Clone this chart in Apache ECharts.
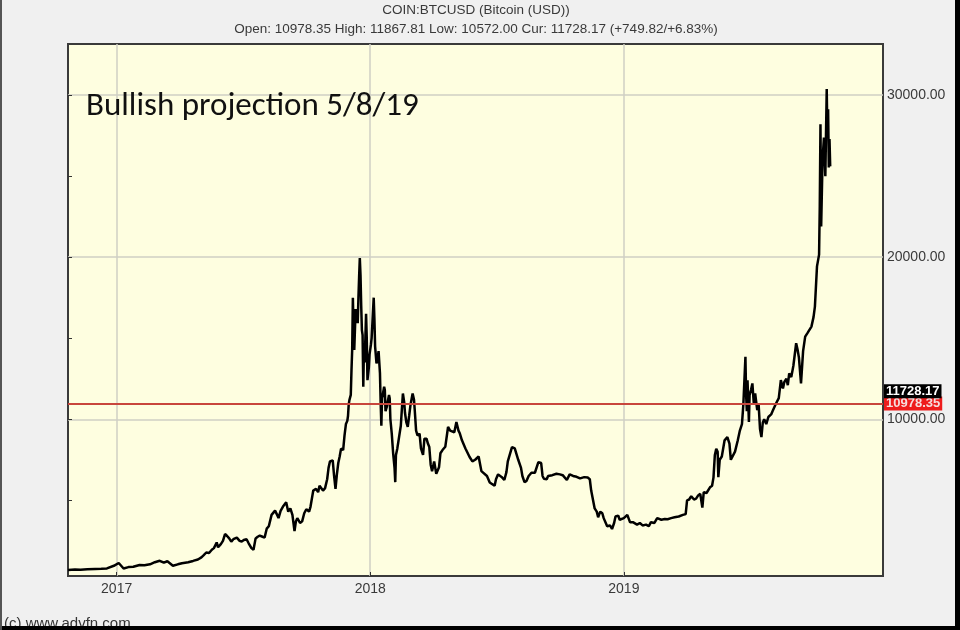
<!DOCTYPE html>
<html>
<head>
<meta charset="utf-8">
<script src="https://cdn.jsdelivr.net/npm/echarts@6/dist/echarts.min.js"></script>
<style>
html,body{margin:0;padding:0;background:#f0f0f0;}
#chart{width:960px;height:630px;}
</style>
</head>
<body>
<div id="chart"></div>
<script>
const headerTitle = 'COIN:BTCUSD (Bitcoin (USD))';
const headerStats = 'Open: 10978.35 High: 11867.81 Low: 10572.00 Cur: 11728.17 (+749.82/+6.83%)';
const annotation = 'Bullish projection 5/8/19';
const copyright = '(c) www.advfn.com';
const openValue = 10978.35;
const curValue = 11728.17;
const yearTicks = ['2017-01-01', '2018-01-01', '2019-01-01'];
const priceTicks = [10000, 20000, 30000];
const minorPriceTicks = [5000, 10000, 15000, 20000, 25000, 30000];

const dates = [
'2016-10-23','2016-11-02','2016-11-10','2016-11-20','2016-12-01','2016-12-10','2016-12-18','2016-12-28','2017-01-04','2017-01-11',
'2017-01-18','2017-01-25','2017-02-03','2017-02-10','2017-02-18','2017-02-25','2017-03-04','2017-03-10','2017-03-15','2017-03-23',
'2017-03-30','2017-04-05','2017-04-14','2017-04-21','2017-04-28','2017-05-03','2017-05-06','2017-05-10','2017-05-14','2017-05-18',
'2017-05-21','2017-05-25','2017-05-27','2017-05-31','2017-06-03','2017-06-06','2017-06-09','2017-06-12','2017-06-15','2017-06-18',
'2017-06-23','2017-06-27','2017-06-30','2017-07-03','2017-07-07','2017-07-10','2017-07-14','2017-07-17','2017-07-20','2017-07-23',
'2017-07-26','2017-07-30','2017-08-02','2017-08-05','2017-08-08','2017-08-12','2017-08-17','2017-08-20','2017-08-22','2017-08-25',
'2017-08-29','2017-09-02','2017-09-05','2017-09-08','2017-09-11','2017-09-14','2017-09-16','2017-09-18','2017-09-22','2017-09-25',
'2017-09-28','2017-10-01','2017-10-05','2017-10-07','2017-10-11','2017-10-13','2017-10-15','2017-10-18','2017-10-20','2017-10-25',
'2017-10-28','2017-10-31','2017-11-02','2017-11-04','2017-11-08','2017-11-10','2017-11-12','2017-11-14','2017-11-16','2017-11-18',
'2017-11-20','2017-11-23','2017-11-25','2017-11-27','2017-11-29','2017-11-30','2017-12-01','2017-12-02','2017-12-04','2017-12-05',
'2017-12-06','2017-12-07','2017-12-08','2017-12-09','2017-12-11','2017-12-12','2017-12-14','2017-12-15','2017-12-16','2017-12-17',
'2017-12-18','2017-12-19','2017-12-20','2017-12-21','2017-12-22','2017-12-23','2017-12-24','2017-12-26','2017-12-27','2017-12-28',
'2017-12-30','2017-12-31','2018-01-02','2018-01-03','2018-01-06','2018-01-07','2018-01-08','2018-01-10','2018-01-11','2018-01-13',
'2018-01-15','2018-01-16','2018-01-17','2018-01-18','2018-01-19','2018-01-21','2018-01-22','2018-01-23','2018-01-25','2018-01-28',
'2018-01-29','2018-01-30','2018-02-01','2018-02-03','2018-02-05','2018-02-06','2018-02-07','2018-02-09','2018-02-11','2018-02-14',
'2018-02-17','2018-02-19','2018-02-20','2018-02-22','2018-02-24','2018-02-26','2018-02-28','2018-03-03','2018-03-05','2018-03-06',
'2018-03-08','2018-03-10','2018-03-13','2018-03-15','2018-03-18','2018-03-20','2018-03-23','2018-03-25','2018-03-27','2018-03-29',
'2018-03-31','2018-04-03','2018-04-06','2018-04-10','2018-04-12','2018-04-15','2018-04-19','2018-04-23','2018-04-26','2018-04-28',
'2018-05-02','2018-05-05','2018-05-08','2018-05-10','2018-05-13','2018-05-15','2018-05-18','2018-05-20','2018-05-24','2018-05-28',
'2018-06-01','2018-06-03','2018-06-06','2018-06-08','2018-06-10','2018-06-12','2018-06-18','2018-06-22','2018-06-24','2018-06-29',
'2018-07-01','2018-07-04','2018-07-10','2018-07-13','2018-07-16','2018-07-18','2018-07-20','2018-07-24','2018-07-26','2018-07-28',
'2018-08-02','2018-08-06','2018-08-08','2018-08-11','2018-08-14','2018-08-17','2018-08-21','2018-08-26','2018-08-31','2018-09-04',
'2018-09-06','2018-09-08','2018-09-12','2018-09-14','2018-09-20','2018-09-26','2018-10-01','2018-10-05','2018-10-11','2018-10-15',
'2018-10-20','2018-10-25','2018-10-30','2018-11-05','2018-11-10','2018-11-13','2018-11-15','2018-11-17','2018-11-20','2018-11-23',
'2018-11-25','2018-11-28','2018-12-01','2018-12-03','2018-12-06','2018-12-08','2018-12-12','2018-12-15','2018-12-18','2018-12-20',
'2018-12-24','2018-12-26','2018-12-28','2019-01-01','2019-01-06','2019-01-10','2019-01-14','2019-01-20','2019-01-24','2019-01-28',
'2019-02-02','2019-02-06','2019-02-09','2019-02-14','2019-02-18','2019-02-24','2019-03-01','2019-03-05','2019-03-10','2019-03-15',
'2019-03-21','2019-03-27','2019-03-31','2019-04-02','2019-04-05','2019-04-08','2019-04-12','2019-04-15','2019-04-18','2019-04-21',
'2019-04-24','2019-04-26','2019-04-30','2019-05-05','2019-05-08','2019-05-10','2019-05-12','2019-05-14','2019-05-16','2019-05-17',
'2019-05-19','2019-05-22','2019-05-26','2019-05-30','2019-06-02','2019-06-04','2019-06-06','2019-06-10','2019-06-14','2019-06-17',
'2019-06-20','2019-06-22','2019-06-24','2019-06-25','2019-06-26','2019-06-27','2019-06-28','2019-06-30','2019-07-01','2019-07-03',
'2019-07-05','2019-07-07','2019-07-09','2019-07-12','2019-07-14','2019-07-16','2019-07-18','2019-07-20','2019-07-22','2019-07-25',
'2019-07-28','2019-08-01','2019-08-03','2019-08-08','2019-08-10','2019-08-12','2019-08-15','2019-08-18','2019-08-20','2019-08-23',
'2019-08-25','2019-08-27','2019-08-30','2019-09-02','2019-09-06','2019-09-08','2019-09-10','2019-09-13','2019-09-16','2019-09-19',
'2019-09-22','2019-09-24','2019-09-28','2019-10-01','2019-10-03','2019-10-06','2019-10-09','2019-10-10','2019-10-11','2019-10-12',
'2019-10-14','2019-10-16','2019-10-18','2019-10-20','2019-10-21','2019-10-22','2019-10-23','2019-10-24','2019-10-25'
];
const prices = [
700,730,720,740,760,770,800,960,1130,790,
880,900,1010,990,1050,1180,1270,1150,1240,960,
1050,1120,1180,1260,1350,1480,1600,1780,1750,1950,
2050,2400,2100,2300,2500,2920,2800,2650,2450,2600,
2700,2500,2450,2550,2600,2350,2050,1950,2650,2750,
2820,2750,2700,3250,3400,4100,4365,4100,3900,4350,
4650,4880,4300,4500,4100,3100,3700,3900,3600,3700,
4200,4450,4300,4600,5600,5700,5710,5500,5900,5600,
5750,6300,7000,7400,7460,6500,5700,6600,7300,7700,
8190,8100,9000,9700,9900,10200,10900,11180,11500,13000,
14270,17500,15500,14270,16800,16500,15930,17500,18800,19950,
18900,17000,15500,15200,12000,14500,13500,16500,15000,12415,
13200,14000,14600,15000,17500,16200,14500,13450,13600,14200,
12830,11000,9600,11300,11500,12000,11800,10500,10800,11500,
11300,10000,9100,7875,7000,6120,7800,8200,8200,9600,
11590,11000,10400,9800,9525,10200,10900,11590,11200,10600,
9300,9000,9115,8200,7800,8800,8800,8500,8285,7200,
6800,7400,6640,7045,7900,8100,8300,9525,9300,9200,
9200,9835,9300,9115,8700,8700,8200,8300,7670,7400,
7500,7565,7700,7700,6800,6700,6500,6100,6020,5900,
6300,6600,6400,6250,6740,7400,7400,8285,8200,8200,
7500,7000,6500,6120,6200,6500,6700,6700,7355,7300,
6500,6330,6300,6500,6550,6640,6600,6550,6250,6600,
6500,6450,6350,6430,6400,6300,5600,5600,4500,4300,
3950,4300,4200,3900,3600,3400,3450,3230,3600,4000,
4055,3800,3700,3900,4100,3640,3650,3500,3600,3450,
3500,3400,3650,3600,3900,3800,3850,3830,3900,3950,
4000,4100,4150,5000,5050,5250,5050,5100,5300,5400,
4550,5500,5450,5800,5900,6400,7800,8185,8000,6430,
7500,7700,8700,8900,8500,7500,7460,8000,8700,9300,
9700,10900,11000,13860,11500,10500,12400,9835,11500,11800,
12210,11000,11600,10560,10900,9400,8900,9800,10000,9700,
10140,10300,10500,10970,10900,11300,12415,11900,12300,12500,
12100,12830,12600,13300,14690,14300,13800,12210,14200,15100,
15300,15400,15715,16300,16950,19430,20155,23150,28200,21900,
26040,27380,25000,30370,27480,29130,25530,27280,25600
];

const toTime = s => { const p = s.split('-'); return new Date(+p[0], +p[1] - 1, +p[2]).getTime(); };
const seriesData = dates.map((d, i) => [toTime(d), prices[i]]);
const yearTickTimes = yearTicks.map(toTime);

const chart = echarts.init(document.getElementById('chart'), null, {renderer: 'canvas'});
const FONT = 'Liberation Sans, Arial, sans-serif';
const axisFont = {fontFamily: FONT, fontSize: 14, color: '#3a3a3a'};

chart.setOption({
  animation: false,
  backgroundColor: '#f0f0f0',
  textStyle: {fontFamily: FONT},
  title: {
    text: headerTitle,
    subtext: headerStats,
    left: 476,
    top: 3,
    padding: 0,
    textAlign: 'center',
    itemGap: 5,
    textStyle: {fontSize: 13.5, fontWeight: 'normal', color: '#3a3a3a', fontFamily: FONT},
    subtextStyle: {fontSize: 13.5, color: '#3a3a3a', fontFamily: FONT}
  },
  grid: {
    left: 68, right: 77, top: 44, bottom: 54,
    show: true,
    backgroundColor: '#fefee0',
    borderColor: '#3a3a3a',
    borderWidth: 2
  },
  xAxis: {
    type: 'value',
    min: toTime('2016-10-23'),
    max: toTime('2020-01-09'),
    axisLine: {show: false},
    axisTick: {show: true, inside: true, length: 4, customValues: yearTickTimes, lineStyle: {color: '#333'}},
    axisLabel: Object.assign({
      customValues: yearTickTimes,
      margin: 6,
      formatter: v => String(new Date(v).getFullYear())
    }, axisFont),
    splitLine: {show: true, lineStyle: {color: '#cfcfc4', width: 1.5}}
  },
  yAxis: [{
    type: 'value',
    position: 'right',
    min: 330,
    max: 33150,
    axisLine: {show: false},
    axisTick: {show: false, customValues: priceTicks},
    axisLabel: Object.assign({
      customValues: priceTicks,
      margin: 4,
      formatter: v => v.toFixed(2)
    }, axisFont),
    splitLine: {show: true, lineStyle: {color: '#cfcfc4', width: 1.5}}
  }, {
    type: 'value',
    position: 'left',
    min: 330,
    max: 33150,
    axisLine: {show: false},
    axisTick: {show: true, inside: true, length: 4, customValues: minorPriceTicks, lineStyle: {color: '#333'}},
    axisLabel: {show: false},
    splitLine: {show: false}
  }],
  series: [{
    type: 'line',
    data: seriesData,
    showSymbol: false,
    symbol: 'none',
    lineStyle: {color: '#000', width: 2.5},
    z: 3,
    markLine: {
      silent: true,
      symbol: 'none',
      animation: false,
      data: [
        {
          yAxis: openValue,
          lineStyle: {color: '#c8463c', width: 2, type: 'solid'},
          label: {
            show: true, position: 'end', distance: 1,
            formatter: () => openValue.toFixed(2),
            backgroundColor: '#ee1c1c', color: '#f6dede', fontWeight: 'bold',
            padding: [1, 2, 0, 2], lineHeight: 13, fontSize: 13, fontFamily: FONT
          }
        },
        {
          yAxis: curValue,
          lineStyle: {color: 'rgba(0,0,0,0)', width: 0},
          label: {
            show: true, position: 'end', distance: 1,
            formatter: () => curValue.toFixed(2),
            backgroundColor: '#000', color: '#fff', fontWeight: 'bold',
            padding: [1, 2, 0, 2], lineHeight: 13, fontSize: 13, fontFamily: FONT
          }
        }
      ]
    }
  }],
  graphic: [
    {type: 'text', left: 86, top: 90, z: 10,
     style: {text: annotation, font: '33px Carlito, Lato, "Open Sans", sans-serif', fill: '#111'}},
    {type: 'text', left: 4, top: 616, z: 10,
     style: {text: copyright, font: '15px "Liberation Sans", Arial, sans-serif', fill: '#333'}},
    {type: 'rect', left: 0, top: 626, z: 20, shape: {width: 960, height: 4}, style: {fill: '#000'}},
    {type: 'rect', left: 955, top: 0, z: 20, shape: {width: 5, height: 630}, style: {fill: '#000'}},
    {type: 'rect', left: 0, top: 0, z: 20, shape: {width: 2, height: 630}, style: {fill: '#555'}}
  ]
});
</script>
</body>
</html>
